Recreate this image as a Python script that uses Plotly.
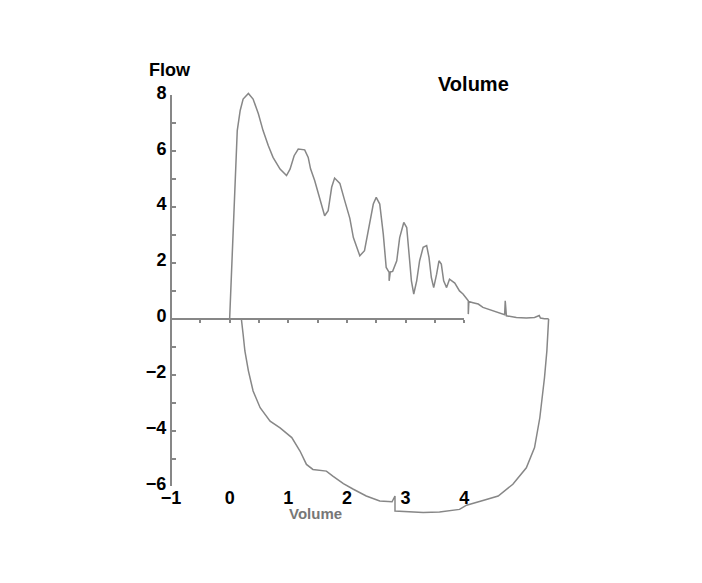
import plotly.graph_objects as go

# expiratory limb (volume, flow)
exp_volume = [0.00, 0.05, 0.09, 0.13, 0.18, 0.23, 0.32, 0.40, 0.49, 0.57, 0.66, 0.74,
              0.86, 0.97, 1.03, 1.10, 1.17, 1.28, 1.34, 1.38, 1.45, 1.54, 1.62, 1.68,
              1.74, 1.79, 1.88, 1.96, 2.05, 2.11, 2.22, 2.30, 2.39, 2.45, 2.50, 2.56,
              2.62, 2.67, 2.72, 2.72, 2.74, 2.78, 2.85, 2.90, 2.97, 3.02, 3.06, 3.10,
              3.14, 3.19, 3.24, 3.30, 3.36, 3.40, 3.44, 3.48, 3.53, 3.57, 3.61, 3.65,
              3.70, 3.75, 3.84, 3.92, 3.98, 4.07, 4.07, 4.08, 4.15, 4.24, 4.32, 4.41,
              4.49, 4.60, 4.69, 4.70, 4.72, 4.89, 5.06, 5.20, 5.28, 5.30, 5.37, 5.44]
exp_flow = [0.00, 2.56, 4.95, 6.74, 7.46, 7.87, 8.07, 7.87, 7.34, 6.74, 6.20, 5.78,
            5.36, 5.13, 5.36, 5.84, 6.08, 6.05, 5.78, 5.37, 4.95, 4.23, 3.69, 3.87,
            4.71, 5.04, 4.85, 4.25, 3.60, 2.91, 2.26, 2.44, 3.39, 4.11, 4.35, 4.11,
            3.04, 1.84, 1.66, 1.36, 1.68, 1.70, 2.08, 2.91, 3.45, 3.27, 2.32, 1.36,
            0.89, 1.36, 2.08, 2.56, 2.62, 2.20, 1.48, 1.12, 1.60, 2.08, 1.96, 1.36,
            1.12, 1.42, 1.28, 1.00, 0.89, 0.65, 0.17, 0.62, 0.58, 0.53, 0.41, 0.35,
            0.29, 0.23, 0.15, 0.65, 0.11, 0.05, 0.03, 0.05, 0.12, 0.03, 0.00, 0.00]

# inspiratory limb, right to left
insp_volume = [5.44, 5.41, 5.37, 5.29, 5.20, 5.06, 4.83, 4.58, 4.32, 4.04, 3.92, 3.58,
               3.30, 3.02, 2.82, 2.82, 2.77, 2.56, 2.33, 2.11, 1.94, 1.76, 1.65, 1.42,
               1.31, 1.20, 1.06, 0.86, 0.69, 0.52, 0.40, 0.32, 0.26, 0.23, 0.20, 0.20]
insp_flow = [0.00, -1.15, -2.10, -3.54, -4.61, -5.33, -5.92, -6.34, -6.50, -6.67, -6.82, -6.91,
             -6.93, -6.91, -6.88, -6.34, -6.55, -6.52, -6.34, -6.10, -5.90, -5.63, -5.45, -5.39,
             -5.21, -4.73, -4.25, -3.90, -3.66, -3.18, -2.58, -1.86, -1.15, -0.55, -0.13, 0.00]

x_ticks = [-1, 0, 1, 2, 3, 4]
y_ticks = [8, 6, 4, 2, 0, -2, -4, -6]

X_RANGE = [-1, 5.6]
Y_RANGE = [-7.2, 8.3]
GREY = '#878787'
FONT = 'Liberation Sans, Arial'


def yfrac(v):
    return (v - Y_RANGE[0]) / (Y_RANGE[1] - Y_RANGE[0])


def xfrac(v):
    return (v - X_RANGE[0]) / (X_RANGE[1] - X_RANGE[0])


def bold(size, color='black'):
    return dict(family=FONT, size=size, color=color, weight='bold')


fig = go.Figure()
for vol, flow in [(exp_volume, exp_flow), (insp_volume, insp_flow)]:
    fig.add_trace(go.Scatter(x=vol, y=flow, mode='lines', showlegend=False,
                             line=dict(color=GREY, width=1.5), hoverinfo='skip'))
# hidden trace so the short axes (x2 / y2) get drawn
fig.add_trace(go.Scatter(x=exp_volume, y=exp_flow, xaxis='x2', yaxis='y2',
                         visible='legendonly', showlegend=False))

fig.update_layout(
    width=702, height=583,
    margin=dict(l=163, r=152, t=79, b=71),
    paper_bgcolor='white', plot_bgcolor='rgba(0,0,0,0)',
    # bottom labels only
    xaxis=dict(range=X_RANGE, showgrid=False, zeroline=False, showline=False,
               tickvals=x_ticks, ticks='', tickfont=bold(18),
               anchor='free', position=yfrac(-5.93)),
    # axis line through flow = 0, up to volume 4
    xaxis2=dict(range=[x_ticks[0], x_ticks[-1]], domain=[0, xfrac(x_ticks[-1])],
                showgrid=False, zeroline=False, showline=True, linecolor=GREY, linewidth=2,
                dtick=0.5, tick0=0, ticks='outside', ticklen=3, tickcolor=GREY, tickwidth=2,
                showticklabels=False, anchor='free', position=yfrac(0)),
    yaxis=dict(range=Y_RANGE, visible=False),
    yaxis2=dict(range=[y_ticks[-1], y_ticks[0]], domain=[yfrac(y_ticks[-1]), yfrac(y_ticks[0])],
                showgrid=False, zeroline=False, showline=True, linecolor=GREY, linewidth=2,
                tickvals=y_ticks, ticks='inside', ticklen=4, tickcolor=GREY, tickwidth=2,
                minor=dict(dtick=1, ticks='inside', ticklen=4, tickcolor=GREY, tickwidth=2),
                tickfont=bold(18), ticklabelshift=-3, anchor='free', position=0),
)

fig.add_annotation(x=xfrac(-1.02), y=yfrac(8.9), xref='paper', yref='paper', text='Flow',
                   xanchor='center', yanchor='middle', showarrow=False, font=bold(18))
fig.add_annotation(x=xfrac(4.16), y=yfrac(8.39), xref='paper', yref='paper', text='Volume',
                   xanchor='center', yanchor='middle', showarrow=False, font=bold(20))
fig.add_annotation(x=xfrac(1.47), y=yfrac(-6.95), xref='paper', yref='paper', text='Volume',
                   xanchor='center', yanchor='middle', showarrow=False, font=bold(15, '#777777'))

fig.write_html("out.html")
